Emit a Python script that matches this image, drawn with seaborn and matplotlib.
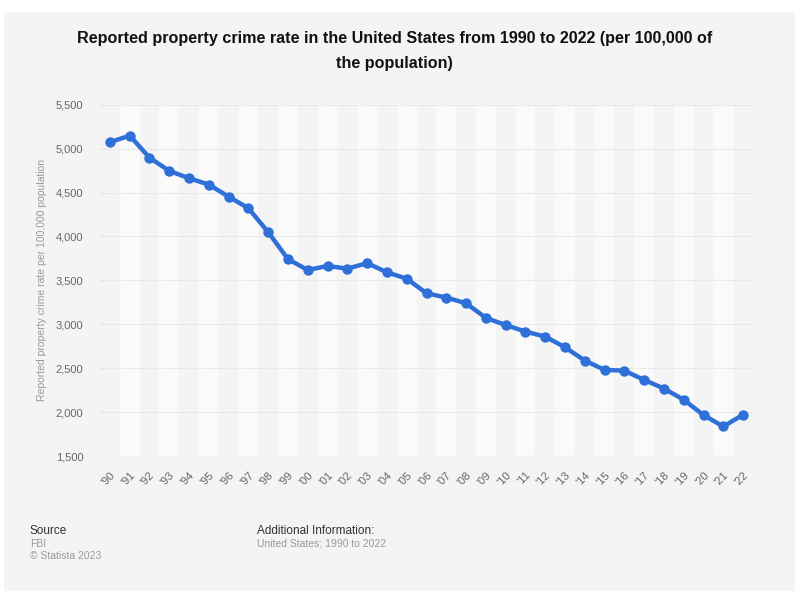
import matplotlib
matplotlib.use("Agg")
import matplotlib.pyplot as plt
from matplotlib.patches import Rectangle
import seaborn as sns
import numpy as np
import pandas as pd

years = ["'90", "'91", "'92", "'93", "'94", "'95", "'96", "'97", "'98", "'99",
         "'00", "'01", "'02", "'03", "'04", "'05", "'06", "'07", "'08", "'09",
         "'10", "'11", "'12", "'13", "'14", "'15", "'16", "'17", "'18", "'19",
         "'20", "'21", "'22"]
rates = [5073, 5148, 4897, 4746, 4663, 4590, 4453, 4321, 4049, 3741,
         3618, 3664, 3633, 3696, 3592, 3519, 3353, 3304, 3239, 3073,
         2991, 2917, 2859, 2738, 2587, 2480, 2472, 2366, 2268, 2140,
         1966, 1836, 1970]
y_ticks = [1500, 2000, 2500, 3000, 3500, 4000, 4500, 5000, 5500]

title = "Reported property crime rate in the United States from 1990 to 2022 (per 100,000 of\nthe population)"
y_label = "Reported property crime rate per 100,000 population"

sns.set_theme(style="white")
plt.rcParams['font.family'] = ['Liberation Sans', 'DejaVu Sans']

df = pd.DataFrame({"idx": np.arange(len(years)), "year": years, "rate": rates})

fig = plt.figure(figsize=(8.0, 6.06), dpi=100)
fig.patch.set_facecolor("white")
# gray panel
fig.patches.append(Rectangle((4/800, 1-591/606), 791/800, (591-12)/606,
                             transform=fig.transFigure, facecolor="#f4f4f4",
                             edgecolor="none", zorder=-5))

ax = fig.add_axes([100/800, 1-456/606, 653/800, (456-104.7)/606])
ax.set_zorder(2)
ax.patch.set_alpha(0)

for i in range(len(years)):
    if i % 2 == 1:
        ax.axvspan(i-0.5, i+0.5, color="#fafafa", zorder=0, lw=0)

for t in y_ticks:
    ax.axhline(t, color="#dcdcdc", lw=0.9, ls=(0, (1, 1)), zorder=1)

sns.lineplot(data=df, x="idx", y="rate", ax=ax, color="#2f70d8", lw=3.2,
             marker="o", markersize=7.5, markeredgewidth=0, zorder=3)

ax.set_xlim(-0.5, len(years)-0.5)
ax.set_ylim(1500, 5500)
ax.set_yticks(y_ticks)
ax.set_yticklabels([f"{t:,}" for t in y_ticks], fontsize=8, color="#666666")
ax.set_xticks(np.arange(len(years)))
ax.set_xticklabels(years, rotation=45, fontsize=8, color="#666666",
                   ha="right", rotation_mode="anchor")
ax.tick_params(axis="y", length=0, pad=12)
ax.tick_params(axis="x", length=0, pad=10)
for s in ax.spines.values():
    s.set_visible(False)
ax.set_xlabel("")
ax.set_ylabel(y_label, fontsize=7.5, color="#999999", labelpad=6)

fig.text(0.493, 1-51/606, title, ha="center", va="center", fontsize=11.6,
         fontweight="bold", color="#111111", linespacing=1.8)

fig.text(30/800, 1-531/606, "Source", fontsize=8.5, color="#333333", va="center")
fig.text(30/800, 1-544/606, "FBI", fontsize=7.5, color="#999999", va="center")
fig.text(30/800, 1-556/606, "© Statista 2023", fontsize=7.5, color="#999999", va="center")
fig.text(257/800, 1-531/606, "Additional Information:", fontsize=8.5, color="#333333", va="center")
fig.text(257/800, 1-544/606, "United States; 1990 to 2022", fontsize=7.5, color="#999999", va="center")

fig.savefig("out.png", dpi=100, facecolor="white")
